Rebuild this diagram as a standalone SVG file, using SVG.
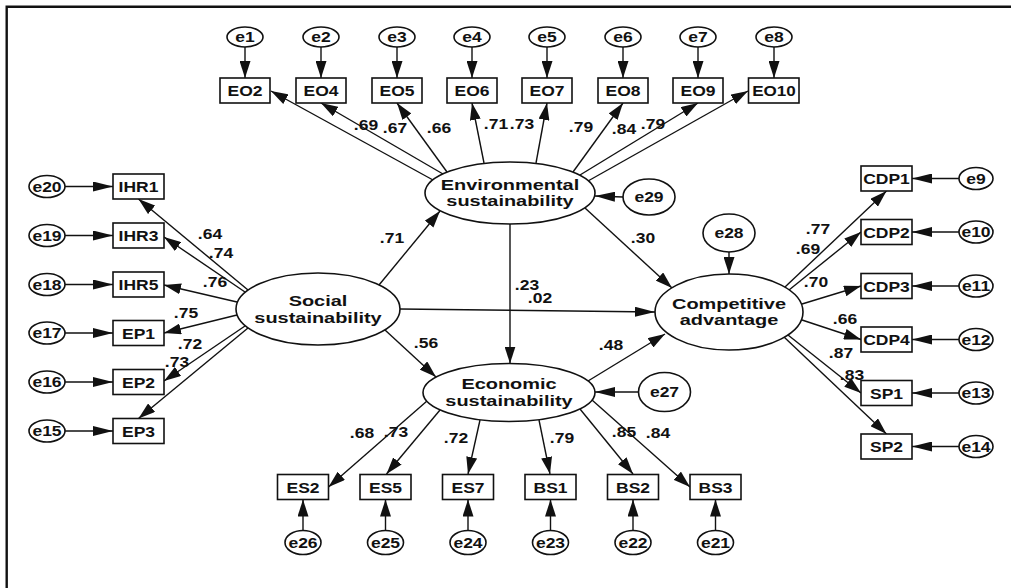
<svg xmlns="http://www.w3.org/2000/svg" width="1011" height="588" viewBox="0 0 1011 588">
<style>
text{font-family:"Liberation Sans",Arial,Helvetica,sans-serif;font-weight:bold;text-anchor:middle;fill:#111}
.lat{font-size:15px}
.ind{font-size:14px}
.err{font-size:14px}
.cf{font-size:14px}
.box{fill:#fff;stroke:#111;stroke-width:1.6}
.ell{fill:#fff;stroke:#111;stroke-width:1.6}
.cn line{stroke:#111;stroke-width:1.4;marker-end:url(#ah)}
.cn line.h{marker-end:url(#ahh)}
</style>
<defs>
<marker id="ah" markerUnits="userSpaceOnUse" markerWidth="17" markerHeight="11" refX="17" refY="5.5" orient="auto">
<path d="M0,0 L17,5.5 L0,11 z" fill="#111"/>
</marker>
<marker id="ahh" markerUnits="userSpaceOnUse" markerWidth="20" markerHeight="10" refX="20" refY="5" orient="auto">
<path d="M0,0 L20,5 L0,10 z" fill="#111"/>
</marker>
</defs>
<rect width="1011" height="588" fill="#fff"/>
<path d="M6.7,588 V6.8 H1011" fill="none" stroke="#111" stroke-width="2.4"/>

<g id="connectors" class="cn">
<!-- top error arrows -->
<line x1="245" y1="47" x2="245" y2="78"/>
<line x1="321" y1="47" x2="321" y2="78"/>
<line x1="397" y1="47" x2="397" y2="78"/>
<line x1="472" y1="47" x2="472" y2="78"/>
<line x1="547" y1="47" x2="547" y2="78"/>
<line x1="623" y1="47" x2="623" y2="78"/>
<line x1="698" y1="47" x2="698" y2="78"/>
<line x1="774" y1="47" x2="774" y2="78"/>
<!-- env loadings -->
<line x1="433" y1="180" x2="271" y2="91"/>
<line x1="443" y1="174" x2="321" y2="103"/>
<line x1="447" y1="172" x2="397" y2="103"/>
<line x1="484" y1="163" x2="472" y2="103"/>
<line x1="536" y1="163" x2="547" y2="103"/>
<line x1="573" y1="172" x2="623" y2="103"/>
<line x1="580" y1="175" x2="698" y2="103"/>
<line x1="588" y1="181" x2="748" y2="91"/>
<line class="h" x1="623" y1="197" x2="595" y2="196"/>
<!-- left error arrows -->
<line class="h" x1="65" y1="186.5" x2="113" y2="186.5"/>
<line class="h" x1="65" y1="235.5" x2="113" y2="235.5"/>
<line class="h" x1="65" y1="284.5" x2="113" y2="284.5"/>
<line class="h" x1="65" y1="333" x2="113" y2="333"/>
<line class="h" x1="65" y1="382" x2="113" y2="382"/>
<line class="h" x1="65" y1="431" x2="113" y2="431"/>
<!-- social loadings -->
<line x1="248" y1="290" x2="138.5" y2="199"/>
<line x1="245" y1="292" x2="164" y2="237"/>
<line x1="237" y1="302" x2="164" y2="285"/>
<line x1="237" y1="315" x2="164" y2="333"/>
<line x1="245" y1="326" x2="164" y2="381"/>
<line x1="248" y1="328" x2="138.5" y2="418.5"/>
<!-- structural -->
<line x1="379" y1="285" x2="440" y2="211"/>
<line class="h" x1="400" y1="309" x2="655" y2="312"/>
<line x1="510" y1="224" x2="510" y2="363.5"/>
<line x1="585" y1="208" x2="672" y2="288"/>
<line x1="385" y1="330" x2="436" y2="377"/>
<line x1="588" y1="381" x2="665" y2="334"/>
<line x1="729" y1="252" x2="729" y2="274"/>
<line class="h" x1="638.5" y1="392" x2="595" y2="392"/>
<!-- competitive loadings -->
<line x1="785" y1="287" x2="886.5" y2="191"/>
<line x1="789" y1="290" x2="861" y2="232"/>
<line x1="802" y1="304" x2="861" y2="286"/>
<line x1="802" y1="320" x2="861" y2="339.5"/>
<line x1="788" y1="335" x2="861" y2="393"/>
<line x1="784" y1="337" x2="886.5" y2="434"/>
<!-- right error arrows -->
<line class="h" x1="959" y1="178.5" x2="912" y2="178.5"/>
<line class="h" x1="959" y1="232" x2="912" y2="232"/>
<line class="h" x1="959" y1="286" x2="912" y2="286"/>
<line class="h" x1="959" y1="339.5" x2="912" y2="339.5"/>
<line class="h" x1="959" y1="393" x2="912" y2="393"/>
<line class="h" x1="959" y1="446.5" x2="912" y2="446.5"/>
<!-- economic loadings -->
<line x1="427" y1="401" x2="328.5" y2="487"/>
<line x1="440" y1="410" x2="386.5" y2="474"/>
<line x1="480" y1="420" x2="468" y2="474"/>
<line x1="539" y1="420" x2="550" y2="474"/>
<line x1="580" y1="409" x2="633" y2="474"/>
<line x1="592" y1="400" x2="690" y2="487"/>
<!-- bottom error arrows -->
<line x1="303" y1="530.5" x2="303" y2="499.5"/>
<line x1="385.5" y1="530.5" x2="385.5" y2="499.5"/>
<line x1="468" y1="530.5" x2="468" y2="499.5"/>
<line x1="550.5" y1="530.5" x2="550.5" y2="499.5"/>
<line x1="633" y1="530.5" x2="633" y2="499.5"/>
<line x1="715.5" y1="530.5" x2="715.5" y2="499.5"/>
</g>

<g id="coefficients" class="cf">
<text transform="translate(366 130) scale(1.25 1)">.69</text>
<text transform="translate(395 133) scale(1.25 1)">.67</text>
<text transform="translate(439 133) scale(1.25 1)">.66</text>
<text transform="translate(496 129) scale(1.25 1)">.71</text>
<text transform="translate(522 129) scale(1.25 1)">.73</text>
<text transform="translate(581 132) scale(1.25 1)">.79</text>
<text transform="translate(624 134) scale(1.25 1)">.84</text>
<text transform="translate(653 129) scale(1.25 1)">.79</text>
<text transform="translate(210 239) scale(1.25 1)">.64</text>
<text transform="translate(221 258) scale(1.25 1)">.74</text>
<text transform="translate(215 287) scale(1.25 1)">.76</text>
<text transform="translate(186 318) scale(1.25 1)">.75</text>
<text transform="translate(190 349) scale(1.25 1)">.72</text>
<text transform="translate(177 367) scale(1.25 1)">.73</text>
<text transform="translate(392 243) scale(1.25 1)">.71</text>
<text transform="translate(540 303) scale(1.25 1)">.02</text>
<text transform="translate(527 290) scale(1.25 1)">.23</text>
<text transform="translate(643 243) scale(1.25 1)">.30</text>
<text transform="translate(426 348) scale(1.25 1)">.56</text>
<text transform="translate(611 350) scale(1.25 1)">.48</text>
<text transform="translate(818 234) scale(1.25 1)">.77</text>
<text transform="translate(808 254) scale(1.25 1)">.69</text>
<text transform="translate(816 287) scale(1.25 1)">.70</text>
<text transform="translate(845 324) scale(1.25 1)">.66</text>
<text transform="translate(841 358) scale(1.25 1)">.87</text>
<text transform="translate(852 380) scale(1.25 1)">.83</text>
<text transform="translate(362 438) scale(1.25 1)">.68</text>
<text transform="translate(396 437) scale(1.25 1)">.73</text>
<text transform="translate(456 443) scale(1.25 1)">.72</text>
<text transform="translate(562 443) scale(1.25 1)">.79</text>
<text transform="translate(624 437) scale(1.25 1)">.85</text>
<text transform="translate(658 438) scale(1.25 1)">.84</text>
</g>

<!-- latent variables -->
<g id="environmental">
<ellipse class="ell" cx="510" cy="193" rx="85" ry="31"/>
<text class="lat" transform="translate(510 0) scale(1.33 1)"><tspan x="0" y="190">Environmental</tspan><tspan x="0" y="206">sustainability</tspan></text>
</g>
<g id="social">
<ellipse class="ell" cx="318" cy="309" rx="82" ry="36"/>
<text class="lat" transform="translate(318 0) scale(1.33 1)"><tspan x="0" y="306">Social</tspan><tspan x="0" y="323">sustainability</tspan></text>
</g>
<g id="economic">
<ellipse class="ell" cx="509" cy="392.5" rx="86" ry="29"/>
<text class="lat" transform="translate(509 0) scale(1.33 1)"><tspan x="0" y="389">Economic</tspan><tspan x="0" y="406">sustainability</tspan></text>
</g>
<g id="competitive">
<ellipse class="ell" cx="729" cy="312" rx="74" ry="38"/>
<text class="lat" transform="translate(729 0) scale(1.33 1)"><tspan x="0" y="309">Competitive</tspan><tspan x="0" y="325">advantage</tspan></text>
</g>

<!-- disturbances -->
<g id="e29"><ellipse class="ell" cx="649" cy="197" rx="26" ry="18"/><text class="err" transform="translate(649 202) scale(1.25 1)">e29</text></g>
<g id="e28"><ellipse class="ell" cx="729" cy="233" rx="26" ry="19"/><text class="err" transform="translate(729 238) scale(1.25 1)">e28</text></g>
<g id="e27"><ellipse class="ell" cx="664.5" cy="392" rx="26" ry="19.5"/><text class="err" transform="translate(664.5 397) scale(1.25 1)">e27</text></g>

<!-- top indicators -->
<g id="EO2"><rect class="box" x="220" y="78" width="50" height="25"/><text class="ind" transform="translate(245 96) scale(1.25 1)">EO2</text></g>
<g id="EO4"><rect class="box" x="296" y="78" width="50" height="25"/><text class="ind" transform="translate(321 96) scale(1.25 1)">EO4</text></g>
<g id="EO5"><rect class="box" x="372" y="78" width="50" height="25"/><text class="ind" transform="translate(397 96) scale(1.25 1)">EO5</text></g>
<g id="EO6"><rect class="box" x="447" y="78" width="50" height="25"/><text class="ind" transform="translate(472 96) scale(1.25 1)">EO6</text></g>
<g id="EO7"><rect class="box" x="522" y="78" width="50" height="25"/><text class="ind" transform="translate(547 96) scale(1.25 1)">EO7</text></g>
<g id="EO8"><rect class="box" x="598" y="78" width="50" height="25"/><text class="ind" transform="translate(623 96) scale(1.25 1)">EO8</text></g>
<g id="EO9"><rect class="box" x="673" y="78" width="50" height="25"/><text class="ind" transform="translate(698 96) scale(1.25 1)">EO9</text></g>
<g id="EO10"><rect class="box" x="748.5" y="78" width="50.5" height="25"/><text class="ind" transform="translate(774 96) scale(1.22 1)">EO10</text></g>

<g id="e1"><ellipse class="ell" cx="245" cy="37" rx="18" ry="10"/><text class="err" transform="translate(245 42) scale(1.25 1)">e1</text></g>
<g id="e2"><ellipse class="ell" cx="321" cy="37" rx="18" ry="10"/><text class="err" transform="translate(321 42) scale(1.25 1)">e2</text></g>
<g id="e3"><ellipse class="ell" cx="397" cy="37" rx="18" ry="10"/><text class="err" transform="translate(397 42) scale(1.25 1)">e3</text></g>
<g id="e4"><ellipse class="ell" cx="472" cy="37" rx="18" ry="10"/><text class="err" transform="translate(472 42) scale(1.25 1)">e4</text></g>
<g id="e5"><ellipse class="ell" cx="547" cy="37" rx="18" ry="10"/><text class="err" transform="translate(547 42) scale(1.25 1)">e5</text></g>
<g id="e6"><ellipse class="ell" cx="623" cy="37" rx="18" ry="10"/><text class="err" transform="translate(623 42) scale(1.25 1)">e6</text></g>
<g id="e7"><ellipse class="ell" cx="698" cy="37" rx="18" ry="10"/><text class="err" transform="translate(698 42) scale(1.25 1)">e7</text></g>
<g id="e8"><ellipse class="ell" cx="774" cy="37" rx="18" ry="10"/><text class="err" transform="translate(774 42) scale(1.25 1)">e8</text></g>

<!-- left indicators -->
<g id="IHR1"><rect class="box" x="113" y="174" width="51" height="25"/><text class="ind" transform="translate(138.5 192) scale(1.25 1)">IHR1</text></g>
<g id="IHR3"><rect class="box" x="113" y="223" width="51" height="25"/><text class="ind" transform="translate(138.5 241) scale(1.25 1)">IHR3</text></g>
<g id="IHR5"><rect class="box" x="113" y="272" width="51" height="25"/><text class="ind" transform="translate(138.5 290) scale(1.25 1)">IHR5</text></g>
<g id="EP1"><rect class="box" x="113" y="320.5" width="51" height="25"/><text class="ind" transform="translate(138.5 338.5) scale(1.25 1)">EP1</text></g>
<g id="EP2"><rect class="box" x="113" y="369.5" width="51" height="25"/><text class="ind" transform="translate(138.5 387.5) scale(1.25 1)">EP2</text></g>
<g id="EP3"><rect class="box" x="113" y="418.5" width="51" height="25"/><text class="ind" transform="translate(138.5 436.5) scale(1.25 1)">EP3</text></g>

<g id="e20"><ellipse class="ell" cx="47" cy="186.5" rx="18" ry="11"/><text class="err" transform="translate(47 191.5) scale(1.25 1)">e20</text></g>
<g id="e19"><ellipse class="ell" cx="47" cy="235.5" rx="18" ry="11"/><text class="err" transform="translate(47 240.5) scale(1.25 1)">e19</text></g>
<g id="e18"><ellipse class="ell" cx="47" cy="284.5" rx="18" ry="11"/><text class="err" transform="translate(47 289.5) scale(1.25 1)">e18</text></g>
<g id="e17"><ellipse class="ell" cx="47" cy="333" rx="18" ry="11"/><text class="err" transform="translate(47 338) scale(1.25 1)">e17</text></g>
<g id="e16"><ellipse class="ell" cx="47" cy="382" rx="18" ry="11"/><text class="err" transform="translate(47 387) scale(1.25 1)">e16</text></g>
<g id="e15"><ellipse class="ell" cx="47" cy="431" rx="18" ry="11"/><text class="err" transform="translate(47 436) scale(1.25 1)">e15</text></g>

<!-- right indicators -->
<g id="CDP1"><rect class="box" x="861" y="166" width="51" height="25"/><text class="ind" transform="translate(886.5 184) scale(1.25 1)">CDP1</text></g>
<g id="CDP2"><rect class="box" x="861" y="219.5" width="51" height="25"/><text class="ind" transform="translate(886.5 237.5) scale(1.25 1)">CDP2</text></g>
<g id="CDP3"><rect class="box" x="861" y="273.5" width="51" height="25"/><text class="ind" transform="translate(886.5 291.5) scale(1.25 1)">CDP3</text></g>
<g id="CDP4"><rect class="box" x="861" y="327" width="51" height="25"/><text class="ind" transform="translate(886.5 345) scale(1.25 1)">CDP4</text></g>
<g id="SP1"><rect class="box" x="861" y="380.5" width="51" height="25"/><text class="ind" transform="translate(886.5 398.5) scale(1.25 1)">SP1</text></g>
<g id="SP2"><rect class="box" x="861" y="434" width="51" height="25"/><text class="ind" transform="translate(886.5 452) scale(1.25 1)">SP2</text></g>

<g id="e9"><ellipse class="ell" cx="976" cy="178.5" rx="17" ry="11"/><text class="err" transform="translate(976 183.5) scale(1.25 1)">e9</text></g>
<g id="e10"><ellipse class="ell" cx="976" cy="232" rx="17" ry="11"/><text class="err" transform="translate(976 237) scale(1.25 1)">e10</text></g>
<g id="e11"><ellipse class="ell" cx="976" cy="286" rx="17" ry="11"/><text class="err" transform="translate(976 291) scale(1.25 1)">e11</text></g>
<g id="e12"><ellipse class="ell" cx="976" cy="339.5" rx="17" ry="11"/><text class="err" transform="translate(976 344.5) scale(1.25 1)">e12</text></g>
<g id="e13"><ellipse class="ell" cx="976" cy="393" rx="17" ry="11"/><text class="err" transform="translate(976 398) scale(1.25 1)">e13</text></g>
<g id="e14"><ellipse class="ell" cx="976" cy="446.5" rx="17" ry="11"/><text class="err" transform="translate(976 451.5) scale(1.25 1)">e14</text></g>

<!-- bottom indicators -->
<g id="ES2"><rect class="box" x="277.5" y="474.5" width="51" height="25"/><text class="ind" transform="translate(303 492.5) scale(1.25 1)">ES2</text></g>
<g id="ES5"><rect class="box" x="360" y="474.5" width="51" height="25"/><text class="ind" transform="translate(385.5 492.5) scale(1.25 1)">ES5</text></g>
<g id="ES7"><rect class="box" x="442.5" y="474.5" width="51" height="25"/><text class="ind" transform="translate(468 492.5) scale(1.25 1)">ES7</text></g>
<g id="BS1"><rect class="box" x="525" y="474.5" width="51" height="25"/><text class="ind" transform="translate(550.5 492.5) scale(1.25 1)">BS1</text></g>
<g id="BS2"><rect class="box" x="607.5" y="474.5" width="51" height="25"/><text class="ind" transform="translate(633 492.5) scale(1.25 1)">BS2</text></g>
<g id="BS3"><rect class="box" x="690" y="474.5" width="51" height="25"/><text class="ind" transform="translate(715.5 492.5) scale(1.25 1)">BS3</text></g>

<g id="e26"><ellipse class="ell" cx="303" cy="542.5" rx="18" ry="12"/><text class="err" transform="translate(303 547.5) scale(1.25 1)">e26</text></g>
<g id="e25"><ellipse class="ell" cx="385.5" cy="542.5" rx="18" ry="12"/><text class="err" transform="translate(385.5 547.5) scale(1.25 1)">e25</text></g>
<g id="e24"><ellipse class="ell" cx="468" cy="542.5" rx="18" ry="12"/><text class="err" transform="translate(468 547.5) scale(1.25 1)">e24</text></g>
<g id="e23"><ellipse class="ell" cx="550.5" cy="542.5" rx="18" ry="12"/><text class="err" transform="translate(550.5 547.5) scale(1.25 1)">e23</text></g>
<g id="e22"><ellipse class="ell" cx="633" cy="542.5" rx="18" ry="12"/><text class="err" transform="translate(633 547.5) scale(1.25 1)">e22</text></g>
<g id="e21"><ellipse class="ell" cx="715.5" cy="542.5" rx="18" ry="12"/><text class="err" transform="translate(715.5 547.5) scale(1.25 1)">e21</text></g>
</svg>
